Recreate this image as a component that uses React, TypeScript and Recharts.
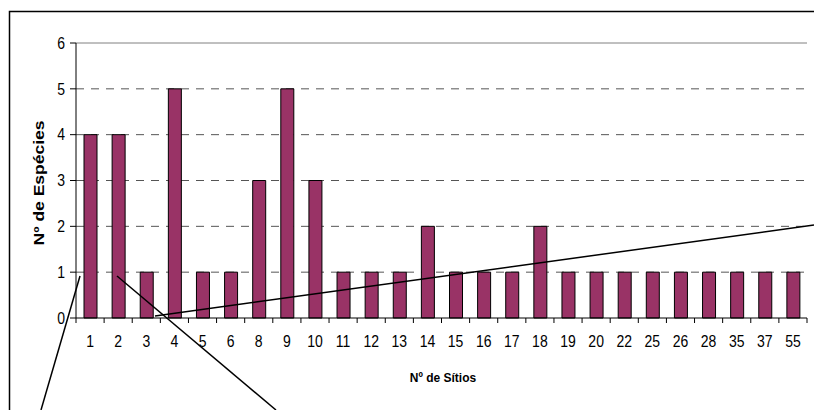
import React from 'react';
import { BarChart, Bar, XAxis, YAxis, CartesianGrid, ReferenceLine } from 'recharts';

const sites = ['1', '2', '3', '4', '5', '6', '8', '9', '10', '11', '12', '13', '14', '15', '16', '17', '18', '19', '20', '22', '25', '26', '28', '35', '37', '55'];
const species = [4, 4, 1, 5, 1, 1, 3, 5, 3, 1, 1, 1, 2, 1, 1, 1, 2, 1, 1, 1, 1, 1, 1, 1, 1, 1];
const yTicks = [0, 1, 2, 3, 4, 5, 6];

const data = sites.map((s, i) => ({ site: s, count: species[i] }));

const W = 814;
const H = 410;
const FONT = '"Liberation Sans", Arial, sans-serif';
const PLOT_LEFT = 76;
const PLOT_RIGHT = 807;
const BAND = (PLOT_RIGHT - PLOT_LEFT) / sites.length;

// stray drawing lines sitting on top of the chart in the original
const strayLines = [
  { x1: 80, y1: 276, x2: 41, y2: 410 },
  { x1: 117, y1: 276, x2: 276, y2: 410 },
  { x1: 155, y1: 316, x2: 814, y2: 225 },
];

function XTick(props: any) {
  const { x, y, payload, index } = props;
  const half = payload && payload.offset ? payload.offset : BAND / 2;
  const last = index === sites.length - 1;
  return (
    <g>
      <line x1={x - half} x2={x - half} y1={y} y2={y + 5} stroke="#000" />
      {last && <line x1={x + half} x2={x + half} y1={y} y2={y + 5} stroke="#000" />}
      <text
        transform={`translate(${x},${y + 29}) scale(1,1.17)`}
        textAnchor="middle"
        fontFamily={FONT}
        fontSize={14}
        fill="#000"
      >
        {payload.value}
      </text>
    </g>
  );
}

function YTick(props: any) {
  const { x, y, payload } = props;
  return (
    <text
      transform={`translate(${x},${y}) scale(1,1.17)`}
      textAnchor="end"
      dy="0.35em"
      fontFamily={FONT}
      fontSize={14}
      fill="#000"
    >
      {payload.value}
    </text>
  );
}

export default function App() {
  return (
    <div style={{ position: 'absolute', left: 0, top: 0, width: W, height: H, overflow: 'hidden', background: '#fff' }}>
      <BarChart width={W} height={H} data={data} margin={{ top: 43, right: 7, left: 0, bottom: 62 }}>
        <CartesianGrid vertical={false} horizontalValues={[1, 2, 3, 4, 5]} stroke="#555" strokeDasharray="8 7" />
        <XAxis
          dataKey="site"
          height={30}
          axisLine={{ stroke: '#000' }}
          tickLine={false}
          tickSize={0}
          tickMargin={0}
          interval={0}
          tick={<XTick />}
        />
        <YAxis
          domain={[0, 6]}
          ticks={yTicks}
          width={76}
          axisLine={{ stroke: '#000' }}
          tickLine={{ stroke: '#000' }}
          tickSize={6}
          tickMargin={5}
          tick={<YTick />}
        />
        <YAxis yAxisId="frame" orientation="right" width={0} tick={false} tickLine={false} axisLine={{ stroke: '#808080' }} />
        <ReferenceLine y={6} stroke="#808080" />
        <Bar dataKey="count" fill="#993366" stroke="#000" strokeWidth={1} barSize={13} isAnimationActive={false} />
      </BarChart>
      <svg width={W} height={H} style={{ position: 'absolute', left: 0, top: 0, pointerEvents: 'none' }}>
        <rect x={9.5} y={11.5} width={W + 20} height={H + 20} fill="none" stroke="#000" strokeWidth={1.5} />
        <text
          transform="translate(443,382) scale(1,1.1)"
          textAnchor="middle"
          fontFamily={FONT}
          fontSize={12}
          fontWeight="bold"
          fill="#000"
        >
          Nº de Sítios
        </text>
        <text
          transform="translate(44,183) rotate(-90)"
          textAnchor="middle"
          fontFamily={FONT}
          fontSize={15}
          fontWeight="bold"
          textLength={125}
          lengthAdjust="spacingAndGlyphs"
          fill="#000"
        >
          Nº de Espécies
        </text>
        {strayLines.map((l, i) => (
          <line key={i} {...l} stroke="#000" strokeWidth={1.5} />
        ))}
      </svg>
    </div>
  );
}
